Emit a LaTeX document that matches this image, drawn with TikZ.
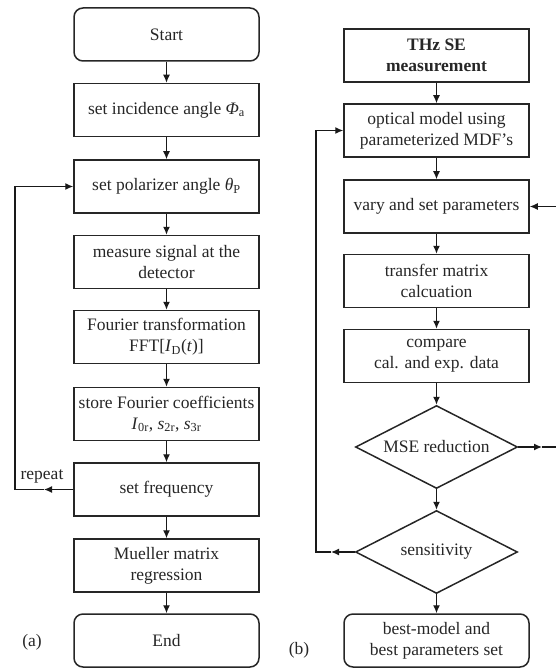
\documentclass[tikz,border=0pt]{standalone}
\usepackage{fontspec}
\setmainfont{Liberation Serif}
\usetikzlibrary{arrows.meta, shapes.geometric, positioning}

\begin{document}
\begin{tikzpicture}[x=1pt, y=-1pt,
		>={Latex[length=8pt,width=7pt]},   % filled arrow tips
		font=\fontsize{17.5}{20.7}\selectfont,
		box/.style={draw=black!85, line width=1.5pt, rectangle, minimum width=185pt, minimum height=53pt, align=center, inner sep=1pt, text=black!85},
		term/.style={box, rounded corners=9pt},
		cond/.style={draw=black!85, line width=1.5pt, diamond, shape aspect=1.93, minimum width=162pt, minimum height=83pt, inner sep=0pt, align=center, text=black!85},
		flow/.style={->, line width=1.3pt, draw=black!90},
		boldtxt/.style={font=\fontsize{17.5}{20.7}\selectfont\bfseries}]
		% Bildbereich
		\useasboundingbox (0,0) rectangle (555,668);
		% linker Ablauf (a)
		\node[term] (start) at (166.5,34.5) {Start};
		\node[box] (inc) at (166.5,110) {set incidence angle {\itshape Φ}\textsubscript{a}};
		\node[box] (pol) at (166.5,186.5) {set polarizer angle {\itshape θ}\textsubscript{P}};
		\node[box] (meas) at (166.5,262) {measure signal at the\\detector};
		\node[box] (fft) at (166.5,337) {Fourier transformation\\FFT[\textit{I}\textsubscript{D}(\textit{t})]};
		\node[box] (coef) at (166.5,414) {store Fourier coefficients\\\textit{I}\textsubscript{0r}, \textit{s}\textsubscript{2r}, \textit{s}\textsubscript{3r}};
		\node[box] (freq) at (166.5,489.5) {set frequency};
		\node[box] (mueller) at (166.5,565.5) {Mueller matrix\\regression};
		\node[term] (end) at (166.5,640.5) {End};
		\node[text=black!85] (lbla) at (32,642) {(a)};
		% Pfeile (a)
		\foreach \a/\b in {start/inc, inc/pol, pol/meas, meas/fft, fft/coef, coef/freq, freq/mueller, mueller/end}
			\draw[flow] (\a) -- (\b);
		% Schleife repeat
		\coordinate (reparr) at (44,489.5);
		\coordinate (repcorner) at (15,489.5);
		\draw[flow] (freq.west) -- (reparr);
		\draw[flow] (reparr) -- (repcorner) |- (pol.west);
		\node[text=black!85] (replbl) at (42,476) {repeat};
		% rechter Ablauf (b)
		\node[box, boldtxt] (thz) at (436.5,55.5) {THz SE\\measurement};
		\node[box] (optmod) at (436.5,130.5) {optical model using\\parameterized MDF’s};
		\node[box] (vary) at (436.5,206.5) {vary and set parameters};
		\node[box] (tmm) at (436.5,281) {transfer matrix\\calcuation};
		\node[box] (cmp) at (436.5,356) {compare\\cal. and exp. data};
		\node[cond] (mse) at (436.5,447) {MSE reduction};
		\node[cond] (sens) at (436.5,552) {sensitivity};
		\node[term] (best) at (436.5,640.5) {best-model and\\best parameters set};
		\node[text=black!85] (lblb) at (299,650) {(b)};
		% Pfeile (b)
		\foreach \a/\b in {thz/optmod, optmod/vary, vary/tmm, tmm/cmp, cmp/mse, mse/sens, sens/best}
			\draw[flow] (\a) -- (\b);
		% Schleife MSE -> Parameter
		\coordinate (msearr) at (542,447);
		\coordinate (msecorner) at (562,447);
		\draw[flow] (mse.east) -- (msearr);
		\draw[flow] (msearr) -- (msecorner) |- (vary.east);
		% Schleife sensitivity -> Modell
		\coordinate (sensarr) at (331,552);
		\coordinate (senscorner) at (316,552);
		\draw[flow] (sens.west) -- (sensarr);
		\draw[flow] (sensarr) -- (senscorner) |- (optmod.west);
	\end{tikzpicture}
\end{document}
